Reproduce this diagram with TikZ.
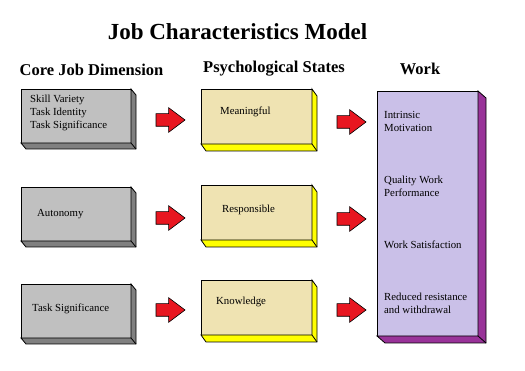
\documentclass[tikz,border=0pt]{standalone}
\usepackage{fontspec}
\setmainfont{Liberation Serif}
\usepackage{tikz}
\usetikzlibrary{calc}
\usetikzlibrary{shapes.arrows}
\definecolor{coregray}{RGB}{192,192,192}
\definecolor{coreside}{RGB}{128,128,128}
\definecolor{statefill}{RGB}{239,227,178}
\definecolor{stateside}{RGB}{255,255,0}
\definecolor{workfill}{RGB}{202,192,232}
\definecolor{workside}{RGB}{153,51,153}
\definecolor{arrowred}{RGB}{232,22,32}
\newcommand{\tikzslab}[4]{\filldraw[fill=#4, line width=0.8pt, line join=miter] (#1.north east) -- ++(#2,#3)
        -- ($(#1.south east)+(#2,#3)$) -- ($(#1.south west)+(#2,#3)$)
        -- (#1.south west) -- (#1.south east) -- cycle;
    \draw[line width=0.8pt] (#1.south east) -- ++(#2,#3);
}
\tikzset{
    slab/.style={draw, line width=0.8pt, inner sep=0pt, outer sep=0pt, anchor=north west},
    corebox/.style={slab, fill=coregray, minimum width=110pt, minimum height=54pt},
    statebox/.style={slab, fill=statefill, minimum width=111pt, minimum height=55pt},
    workbox/.style={slab, fill=workfill, minimum width=101pt, minimum height=245pt},
    boxtext/.style={anchor=west, inner sep=0pt, align=left, font=\fontsize{10.8}{13}\selectfont},
    heading/.style={inner sep=0pt, font=\fontsize{16.5}{20}\selectfont\bfseries},
    blockarrow/.style={single arrow, draw, fill=arrowred, line width=0.6pt,
        single arrow head extend=6pt, single arrow tip angle=74,
        inner xsep=0pt, inner ysep=6pt, minimum height=29pt, outer sep=0pt, anchor=tail}
}

\begin{document}
\begin{tikzpicture}[x=1pt, y=-1pt]
    \useasboundingbox (0,0) rectangle (525,371);

    % Draw headings
    \node[inner sep=0pt, font=\fontsize{23}{28}\selectfont\bfseries] (title) at (237.5,32) {Job Characteristics Model};
    \node[heading] (hcore) at (91.5,70) {Core Job Dimension};
    \node[heading] (hpsy) at (274,69) {Psychological States};
    \node[heading] (hwork) at (420,69) {Work};

    % Draw core job boxes
    \node[corebox] (core1) at (21,89) {};
    \node[corebox] (core2) at (21,187) {};
    \node[corebox] (core3) at (21,284) {};
    \tikzslab{core1}{5}{6}{coreside}
    \tikzslab{core2}{5}{6}{coreside}
    \tikzslab{core3}{5}{6}{coreside}

    % Draw state boxes
    \node[statebox] (state1) at (201,89) {};
    \node[statebox] (state2) at (201,185) {};
    \node[statebox] (state3) at (201,280) {};
    \tikzslab{state1}{5}{7}{stateside}
    \tikzslab{state2}{5}{7}{stateside}
    \tikzslab{state3}{5}{7}{stateside}

    % Draw work box
    \node[workbox] (work) at (377,91) {};
    \tikzslab{work}{8}{7}{workside}

    % Draw texts
    \node[boxtext] (tcore1) at (30,113) {Skill Variety\\Task Identity\\Task Significance};
    \node[boxtext] (tcore2) at (37,214) {Autonomy};
    \node[boxtext] (tcore3) at (32,309) {Task Significance};
    \node[boxtext] (tstate1) at (220,112) {Meaningful};
    \node[boxtext] (tstate2) at (222,210) {Responsible};
    \node[boxtext] (tstate3) at (216,302) {Knowledge};
    \node[boxtext] (twork1) at (384,121.5) {Intrinsic\\Motivation};
    \node[boxtext] (twork2) at (384,186.5) {Quality Work\\Performance};
    \node[boxtext] (twork3) at (384,245) {Work Satisfaction};
    \node[boxtext] (twork4) at (384,303) {Reduced resistance\\and withdrawal};

    % Draw arrows
    \node[blockarrow] (arr11) at (156,120) {};
    \node[blockarrow] (arr21) at (156,218) {};
    \node[blockarrow] (arr31) at (156,310) {};
    \node[blockarrow] (arr12) at (337,122) {};
    \node[blockarrow] (arr22) at (337,219) {};
    \node[blockarrow] (arr32) at (337,310) {};
\end{tikzpicture}
\end{document}
